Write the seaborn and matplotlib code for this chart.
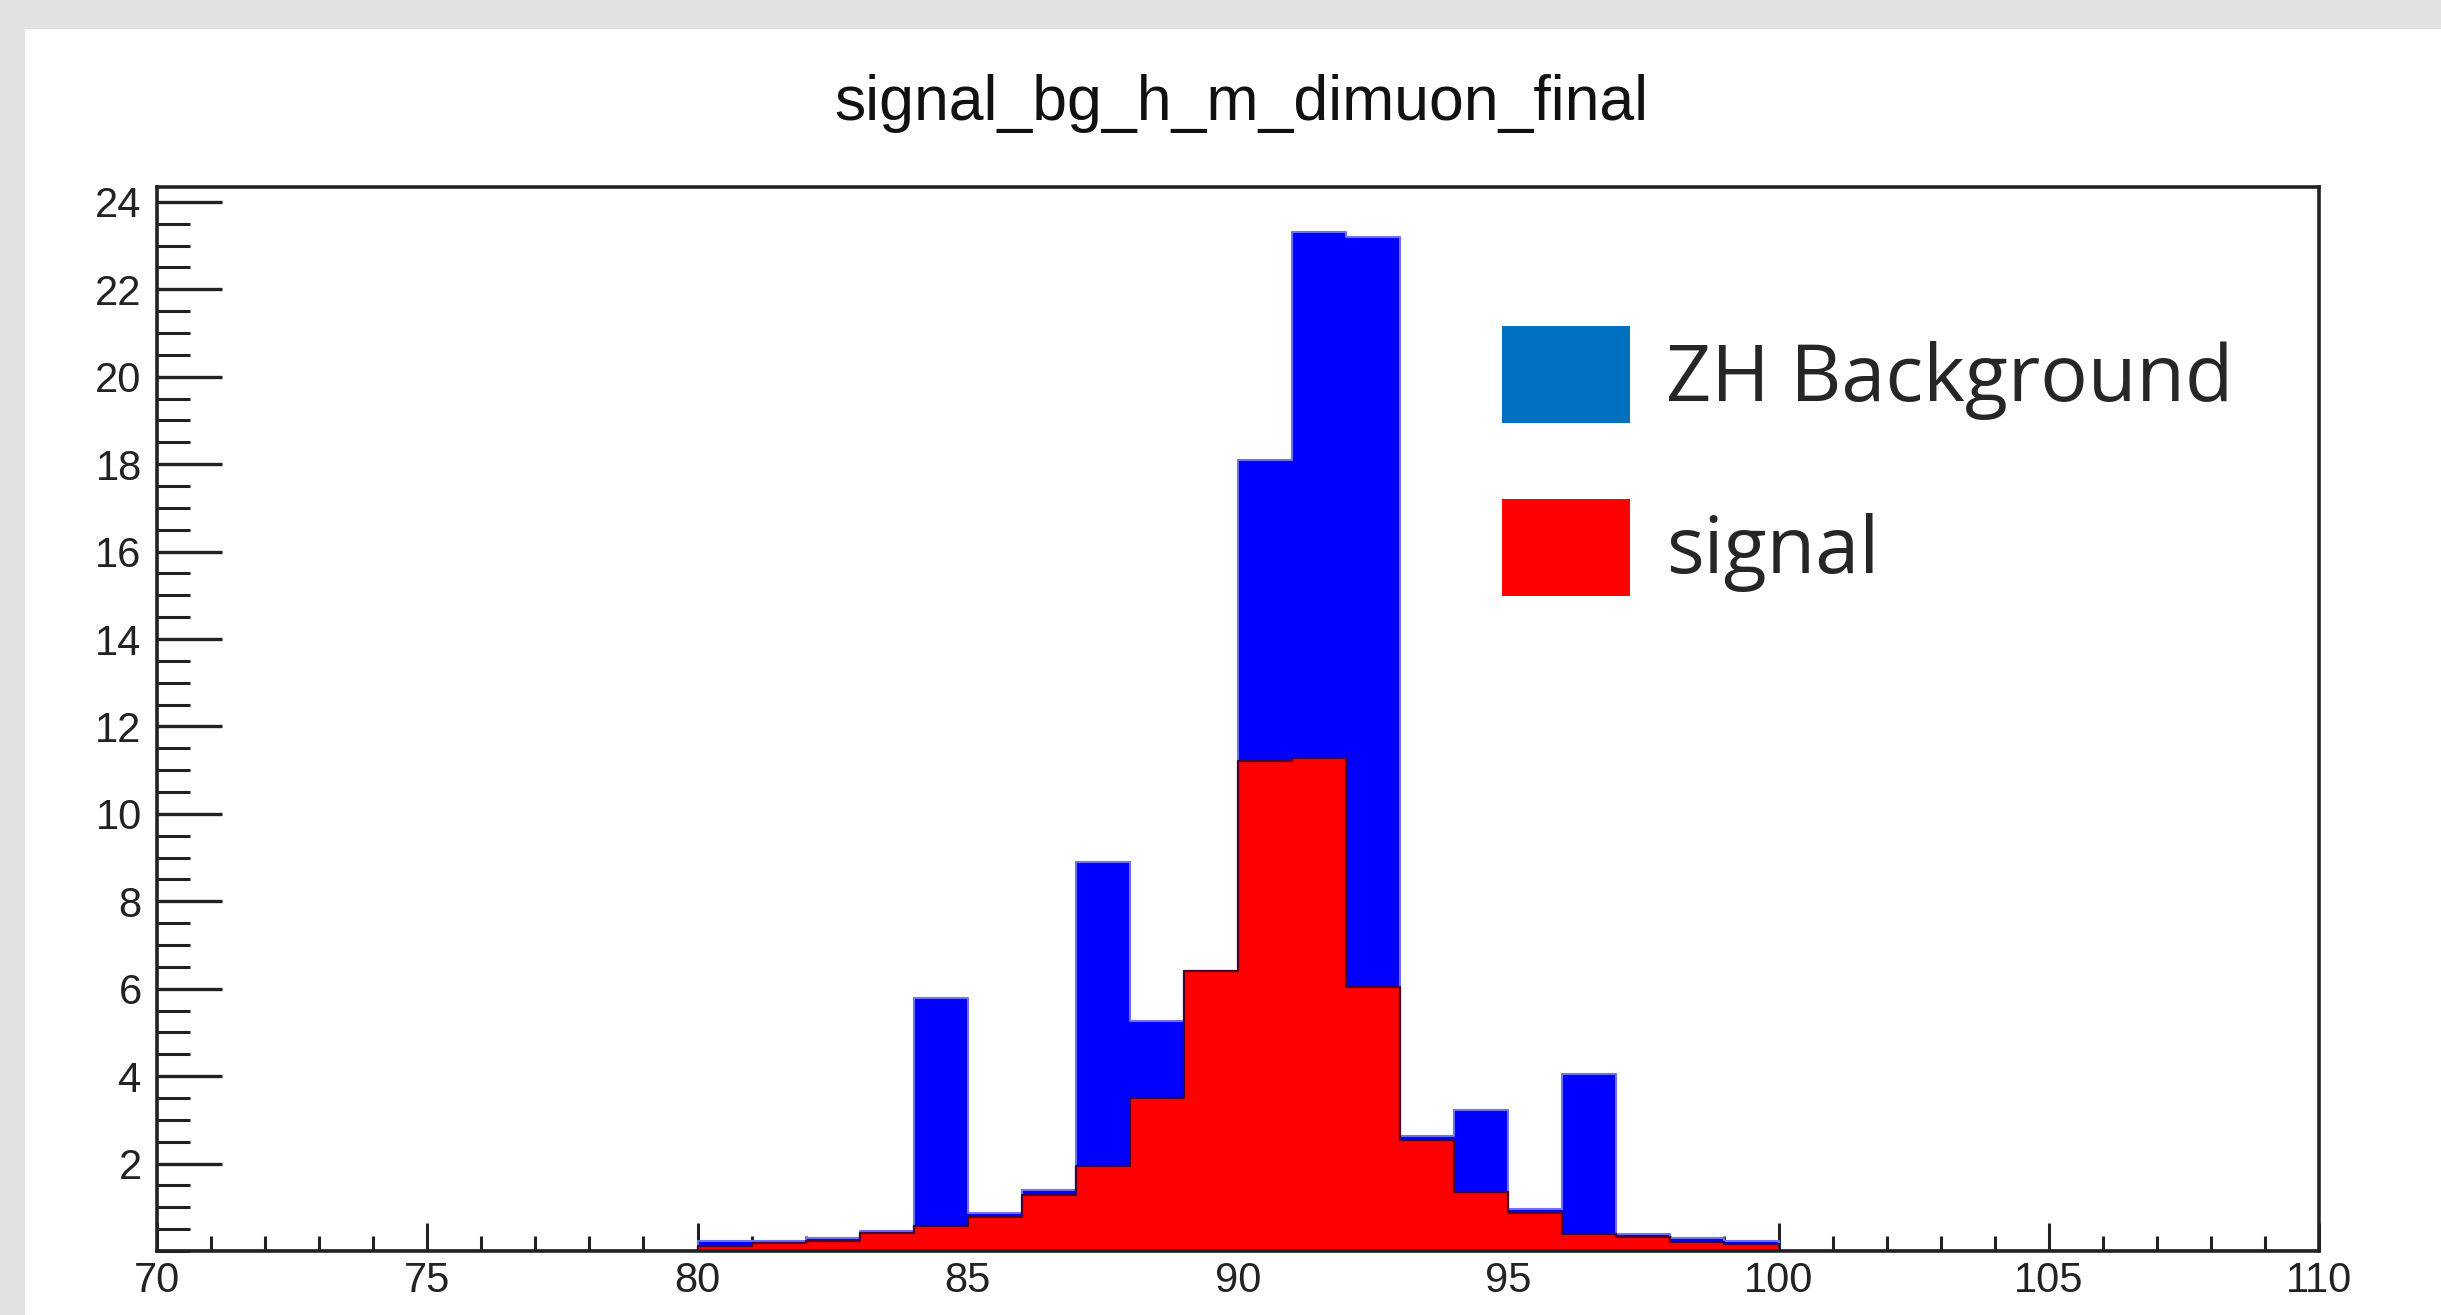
import numpy as np
import pandas as pd
import matplotlib
matplotlib.use("Agg")
import matplotlib.pyplot as plt
from matplotlib.patches import Patch, Rectangle
from matplotlib.ticker import MultipleLocator
import seaborn as sns

# dimuon mass bins (1 GeV wide), lower edge + 0.5
mass = [80.5, 81.5, 82.5, 83.5, 84.5, 85.5, 86.5, 87.5, 88.5, 89.5,
        90.5, 91.5, 92.5, 93.5, 94.5, 95.5, 96.5, 97.5, 98.5, 99.5]
bg_counts = [0.23, 0.23, 0.29, 0.46, 5.78, 0.86, 1.40, 8.90, 5.26, 6.40,
             18.10, 23.30, 23.20, 2.62, 3.22, 0.95, 4.06, 0.40, 0.29, 0.23]
sig_counts = [0.12, 0.18, 0.23, 0.42, 0.58, 0.78, 1.27, 1.94, 3.50, 6.40,
              11.20, 11.28, 6.04, 2.55, 1.36, 0.86, 0.40, 0.32, 0.20, 0.15]
legend_labels = ["ZH Background", "signal"]
title = "signal_bg_h_m_dimuon_final"

df = pd.DataFrame({"mass": mass, "bg": bg_counts, "sig": sig_counts})

sns.set_theme(style="white")
plt.rcParams["font.family"] = ["Liberation Sans", "DejaVu Sans"]

W, H = 2441, 1315
fig = plt.figure(figsize=(W / 100, H / 100), dpi=100, facecolor="#e2e2e2")
fig.patches.append(Rectangle((25 / W, 0), 1, 1 - 29 / H, transform=fig.transFigure,
                             facecolor="white", edgecolor="none", zorder=-10))
ax = fig.add_axes([157 / W, 1 - 1251 / H, (2319 - 157) / W, (1251 - 187) / H])
ax.set_facecolor("white")

edges = list(range(70, 111))
sns.histplot(data=df, x="mass", weights="bg", bins=edges, element="step", fill=True,
             color="#0000ff", alpha=1, edgecolor="#7070ff", linewidth=1.5, ax=ax)
sns.histplot(data=df, x="mass", weights="sig", bins=edges, element="step", fill=True,
             color="#ff0000", alpha=1, edgecolor="#4a0028", linewidth=1.6, ax=ax)

ax.set_xlim(70, 110)
ax.set_ylim(0, 24.34)
ax.set_xlabel("")
ax.set_ylabel("")
ax.set_xticks(np.arange(70, 111, 5))
ax.set_yticks(np.arange(2, 25, 2))
ax.xaxis.set_minor_locator(MultipleLocator(1))
ax.yaxis.set_minor_locator(MultipleLocator(0.5))
ax.tick_params(axis="x", which="major", direction="in", length=20, width=2.2,
               labelsize=30, pad=7, color="#222222", bottom=True, top=False)
ax.tick_params(axis="x", which="minor", direction="in", length=11, width=2.2,
               color="#222222", bottom=True, top=False)
ax.tick_params(axis="y", which="major", direction="in", length=47, width=2.4,
               labelsize=30, pad=11, color="#222222", left=True, right=False)
ax.tick_params(axis="y", which="minor", direction="in", length=24, width=2.2,
               color="#222222", left=True, right=False)
for lbl in ax.get_xticklabels() + ax.get_yticklabels():
    lbl.set_color("#222222")
for s in ax.spines.values():
    s.set_visible(True)
    s.set_color("#222222")
    s.set_linewidth(2.6)

fig.text(1241 / W, 1 - 120 / H, title, ha="center", va="baseline",
         fontsize=45, color="#111111")

handles = [Patch(facecolor="#0070c0", edgecolor="none"),
           Patch(facecolor="#ff0000", edgecolor="none")]
ax.legend(handles, legend_labels, loc="upper left", bbox_to_anchor=(0.622, 0.869),
          frameon=False, prop={"family": ["Open Sans", "DejaVu Sans"], "size": 57},
          handlelength=1.62, handleheight=1.5, handletextpad=0.46,
          labelspacing=0.96, borderpad=0, borderaxespad=0)

fig.savefig("out.png", dpi=100, facecolor=fig.get_facecolor())
